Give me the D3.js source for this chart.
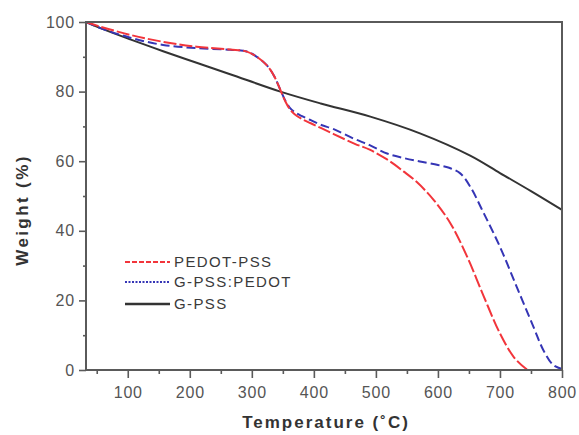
<!DOCTYPE html>
<html>
<head>
<meta charset="utf-8">
<script src="https://cdn.jsdelivr.net/npm/d3@7/dist/d3.min.js"></script>
<style>
  html, body { margin: 0; padding: 0; background: #fff; }
  svg { display: block; }
</style>
</head>
<body>
<svg id="chart" width="579" height="435"></svg>
<script>
// TGA curves: temperature (°C) vs. remaining weight (%)
const pedotPssT = [33, 55, 104, 157, 211, 265, 292, 308, 324, 335, 346, 354, 361, 369, 380, 395, 412, 432, 466, 490, 518, 545, 566, 593, 620, 647, 674, 700, 722, 741, 746];
const pedotPssW = [100, 98.7, 96.3, 94.3, 92.9, 92.1, 91.5, 90, 87.6, 84.8, 80.5, 77.2, 75.0, 73.5, 72.2, 70.9, 69.5, 67.8, 65.0, 63.3, 60.5, 57.0, 54.0, 48.9, 42.2, 32.6, 21.1, 10.5, 3.8, 0.5, 0];

const gPssPedotT = [33, 55, 104, 157, 211, 265, 292, 308, 324, 335, 346, 354, 361, 369, 380, 395, 412, 432, 464, 490, 518, 545, 571, 600, 618, 636, 652, 674, 700, 727, 754, 770, 786, 800];
const gPssPedotW = [100, 98.3, 95.5, 93.4, 92.5, 92.0, 91.5, 90, 87.6, 84.8, 80.5, 77.4, 75.4, 74.1, 73.0, 71.8, 70.4, 69.2, 66.5, 64.6, 62.2, 60.9, 59.9, 58.9, 58.1, 56.5, 52.7, 45, 35.4, 23.9, 12.4, 5.7, 1.4, 0.3];

const gPssT = [33, 55, 104, 157, 211, 265, 346, 411, 491, 571, 652, 700, 750, 800];
const gPssW = [100, 98.3, 95.0, 91.6, 88.3, 85.0, 80, 76.6, 72.8, 68, 61.6, 56.6, 51.4, 46];

const xTicks = [100, 200, 300, 400, 500, 600, 700, 800];
const xMinorTicks = [50, 150, 250, 350, 450, 550, 650, 750];
const yTicks = [0, 20, 40, 60, 80, 100];
const yMinorTicks = [10, 30, 50, 70, 90];

const seriesNames = ["PEDOT-PSS", "G-PSS:PEDOT", "G-PSS"];

const series = [
  { name: seriesNames[0], t: pedotPssT, w: pedotPssW, color: "#f2353b", dash: "13,3", legendDash: "5,2" },
  { name: seriesNames[1], t: gPssPedotT, w: gPssPedotW, color: "#3535b5", dash: "9,4", legendDash: "2,1.5" },
  { name: seriesNames[2], t: gPssT, w: gPssW, color: "#333333", dash: null, legendDash: null }
];

const svg = d3.select("#chart");
const margin = { left: 86, right: 17, top: 22, bottom: 65 };
const W = 579, H = 435;
const x = d3.scaleLinear().domain([32.7, 800]).range([margin.left, W - margin.right]);
const y = d3.scaleLinear().domain([0, 100]).range([H - margin.bottom, margin.top]);

const axisColor = "#5a5a5a";
const font = "Arial, 'Liberation Sans', sans-serif";

const g = svg.append("g");

// curves
const line = d3.line()
  .x(d => x(d[0]))
  .y(d => y(d[1]))
  .curve(d3.curveCatmullRom.alpha(0.5));

// draw black first so coloured curves sit on top
[series[2], series[1], series[0]].forEach(s => {
  const pts = s.t.map((t, i) => [t, s.w[i]]);
  g.append("path")
    .datum(pts)
    .attr("d", line)
    .attr("fill", "none")
    .attr("stroke", s.color)
    .attr("stroke-width", 2)
    .attr("stroke-dasharray", s.dash)
    .attr("stroke-linejoin", "round");
});

// frame
g.append("rect")
  .attr("x", x.range()[0]).attr("y", y.range()[1])
  .attr("width", x.range()[1] - x.range()[0])
  .attr("height", y.range()[0] - y.range()[1])
  .attr("fill", "none").attr("stroke", axisColor).attr("stroke-width", 2);

// x axis
const xAxis = g.append("g").attr("transform", `translate(0,${y(0)})`)
  .call(d3.axisBottom(x).tickValues(xTicks).tickSize(8).tickPadding(9));
const xMinor = g.append("g").attr("transform", `translate(0,${y(0)})`)
  .call(d3.axisBottom(x).tickValues(xMinorTicks).tickSize(4).tickFormat(""));

// y axis
const yAxis = g.append("g").attr("transform", `translate(${x.range()[0]},0)`)
  .call(d3.axisLeft(y).tickValues(yTicks).tickSize(7).tickPadding(4));
const yMinor = g.append("g").attr("transform", `translate(${x.range()[0]},0)`)
  .call(d3.axisLeft(y).tickValues(yMinorTicks).tickSize(3).tickFormat(""));

[xAxis, xMinor, yAxis, yMinor].forEach(a => {
  a.select(".domain").remove();
  a.selectAll(".tick line").attr("stroke", axisColor).attr("stroke-width", 1.6);
  a.selectAll(".tick text")
    .attr("fill", "#555")
    .style("font-family", font)
    .style("font-size", "16px")
    .style("letter-spacing", "0.8px");
});

// axis titles
g.append("text")
  .attr("x", 326).attr("y", 428)
  .attr("text-anchor", "middle")
  .style("font-family", font).style("font-size", "17px").style("font-weight", "bold")
  .style("letter-spacing", "2px")
  .attr("fill", "#333")
  .text("Temperature (˚C)");

g.append("text")
  .attr("transform", `translate(28,210) rotate(-90)`)
  .attr("text-anchor", "middle")
  .style("font-family", font).style("font-size", "17px").style("font-weight", "bold")
  .style("letter-spacing", "2.4px")
  .attr("fill", "#333")
  .text("Weight (%)");

// legend
const legendY = [262, 282, 304];
series.forEach((s, i) => {
  g.append("line")
    .attr("x1", 125).attr("x2", 170)
    .attr("y1", legendY[i]).attr("y2", legendY[i])
    .attr("stroke", s.color)
    .attr("stroke-width", s.dash ? 1.8 : 2.5)
    .attr("stroke-dasharray", s.legendDash);
  g.append("text")
    .attr("x", 174).attr("y", legendY[i])
    .attr("dy", "0.36em")
    .style("font-family", font).style("font-size", "15px")
    .style("letter-spacing", "1.4px")
    .attr("fill", "#3a3a3a")
    .text(s.name);
});
</script>
</body>
</html>
